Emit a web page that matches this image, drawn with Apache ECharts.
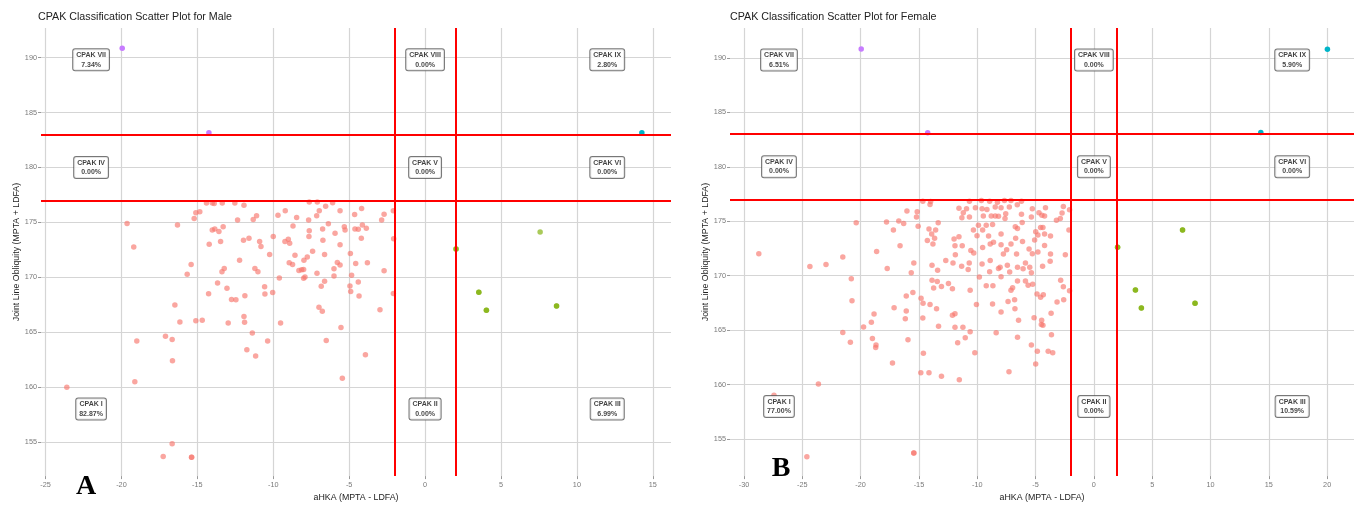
<!DOCTYPE html>
<html><head><meta charset="utf-8">
<script src="https://cdn.jsdelivr.net/npm/echarts@6/dist/echarts.min.js"></script>
<style>html,body{margin:0;padding:0;background:#fff;overflow:hidden}#c{width:1354px;height:507px}</style>
</head><body><div id="c"></div><script>
// ---------------- data ----------------
const titles = ['CPAK Classification Scatter Plot for Male', 'CPAK Classification Scatter Plot for Female'];
const panelLetters = ['A', 'B'];
const xTitle = 'aHKA (MPTA - LDFA)';
const yTitle = 'Joint Line Obliquity (MPTA + LDFA)';
const cutX = [-2, 2];
const cutY = [177, 183];
const regionNames = ['CPAK VII','CPAK VIII','CPAK IX','CPAK IV','CPAK V','CPAK VI','CPAK I','CPAK II','CPAK III'];
const malePct = ['7.34%','0.00%','2.80%','0.00%','0.00%','0.00%','82.87%','0.00%','6.99%'];
const femalePct = ['6.51%','0.00%','5.90%','0.00%','0.00%','0.00%','77.00%','0.00%','10.59%'];
const maleLabelX = [-22, 0, 12];
const femaleLabelX = [-27, 0, 17];
const labelY = [189.8, 180, 158];

const maleI = [
[-19.63,174.91],[-19.19,172.75],[-16.31,174.76],[-15.10,175.87],[-14.84,175.96],[-15.21,175.36],
[-14.40,176.77],[-14.02,176.77],[-13.89,176.71],[-13.36,176.77],[-12.53,176.77],[-11.93,176.56],
[-12.35,175.21],[-11.32,175.27],[-11.10,175.60],[-9.69,175.66],[-9.21,176.05],[-8.46,175.45],[-7.67,175.21],[-7.14,175.60],[-6.97,176.05],[-6.55,176.47],[-6.09,176.80],[-7.63,176.86],[-7.10,176.86],
[-5.60,176.05],[-4.64,175.72],[-4.18,176.26],[-2.70,175.75],[-2.86,175.21],[-2.09,176.05],
[-14.02,174.31],[-13.85,174.40],[-13.58,174.16],[-13.30,174.61],[-14.22,173.02],[-13.47,173.26],
[-11.96,173.38],[-11.60,173.56],[-10.90,173.26],[-10.81,172.81],[-10.00,173.71],
[-9.23,173.26],[-9.01,173.47],[-8.92,173.11],[-8.70,174.67],[-7.63,174.25],[-7.65,173.71],[-6.75,174.40],[-6.37,174.88],[-6.73,173.38],[-5.93,174.01],[-5.32,174.61],[-5.27,174.31],[-4.62,174.40],[-4.40,174.37],[-4.13,174.76],[-3.87,174.46],[-5.60,172.96],[-4.20,173.56],
[-10.24,172.07],[-8.57,172.01],[-7.41,172.37],[-7.76,171.86],[-7.98,171.56],[-6.62,172.07],[-4.92,172.16],[-8.95,171.32],[-8.73,171.17],[-8.31,170.63],[-8.13,170.69],[-8.00,170.72],[-7.91,170.03],[-8.00,169.91],[-7.12,170.36],[-6.00,170.78],[-5.78,171.35],[-5.60,171.11],[-4.84,170.18],[-4.57,171.26],[-3.80,171.32],[-2.70,170.60],[-2.07,173.50],
[-12.22,171.56],[-15.41,171.17],[-15.67,170.27],[-13.38,170.51],[-13.23,170.81],[-11.21,170.81],[-11.01,170.51],
[-9.60,169.94],[-6.62,169.64],[-6.84,169.19],[-6.00,170.12],[-4.95,169.22],[-4.40,169.58],[-4.90,168.71],[-4.35,168.29],[-2.97,167.04],
[-13.67,169.49],[-13.05,169.01],[-14.26,168.50],[-12.75,167.99],[-12.46,167.96],[-11.87,168.32],[-10.57,169.13],[-10.55,168.47],[-10.04,168.62],
[-16.48,167.49],[-16.15,165.93],[-15.10,166.05],[-14.68,166.08],[-12.97,165.84],[-11.93,166.44],[-11.89,165.90],[-9.52,165.84],[-6.99,167.28],[-6.77,166.92],[-5.54,165.42],
[-2.09,168.53],
[-18.99,164.19],[-17.10,164.64],[-16.66,164.34],[-16.64,162.40],[-19.12,160.48],[-11.38,164.94],[-10.37,164.19],[-11.74,163.41],[-11.16,162.84],[-6.51,164.25],[-3.93,162.96],[-5.45,160.81],
[-16.66,154.85],[-17.25,153.68],[-15.38,153.62],[-15.38,153.62],[-23.6,160.0]
];
const maleIII = [[2.04,172.57],[2.04,172.57],[7.58,174.12],[3.54,168.64],[3.54,168.64],[4.04,167.0],[4.04,167.0],[8.66,167.39],[8.66,167.39]];
const maleVII = [[-19.95,190.85],[-14.24,183.17]];
const maleIX = [[14.28,183.17]];

const femaleI = [
[-14.67,176.84],[-14.0,176.81],[-14.05,176.54],[-10.67,176.84],[-9.65,176.9],[-8.94,176.84],[-8.27,176.75],[-7.67,176.9],[-7.11,176.9],[-6.21,176.84],[-6.57,176.51],
[-16.03,175.93],[-15.15,175.87],[-11.57,176.2],[-10.92,176.14],[-10.16,176.23],[-9.59,176.14],[-9.17,176.08],[-8.46,176.3],[-7.96,176.23],[-7.25,176.3],[-5.28,176.14],[-4.15,176.23],[-2.62,176.36],[-2.09,176.05],
[-16.73,175.03],[-15.21,175.39],[-11.2,175.78],[-11.32,175.33],[-10.67,175.39],[-9.48,175.48],[-8.8,175.48],[-8.46,175.48],[-8.18,175.45],[-7.56,175.69],[-7.62,175.24],[-6.21,175.63],[-5.36,175.39],[-4.71,175.78],[-4.46,175.54],[-4.23,175.48],[-3.21,175.09],[-2.73,175.75],[-2.88,175.24],
[-20.38,174.85],[-17.78,174.94],[-16.31,174.79],[-15.07,174.55],[-13.35,174.85],[-9.9,174.64],[-9.23,174.64],[-8.69,174.7],[-6.74,174.49],[-6.15,174.88],[-4.57,174.43],[-4.37,174.43],
[-17.19,174.19],[-14.14,174.28],[-13.57,174.19],[-13.91,173.83],[-13.66,173.43],[-14.28,173.22],[-13.8,172.92],[-11.99,173.37],[-11.57,173.58],[-10.33,174.19],[-10.02,173.67],[-9.54,174.19],[-9.03,173.64],[-8.61,173.07],[-7.96,173.83],[-7.11,172.92],[-6.71,173.43],[-6.55,174.34],[-6.12,173.13],[-4.99,174.04],[-5.08,173.28],[-4.8,173.73],[-4.23,173.83],[-3.72,173.64],[-2.14,174.19],
[-16.62,172.74],[-18.63,172.23],[-11.91,172.74],[-11.88,171.93],[-11.29,172.74],[-10.55,172.32],[-10.3,172.08],[-9.54,172.59],[-8.89,172.92],[-7.96,172.83],[-7.48,172.38],[-7.76,171.99],[-6.63,171.99],[-5.56,172.44],[-5.28,172.02],[-4.8,172.17],[-4.23,172.77],[-3.72,171.99],[-2.45,171.93],
[-28.73,172.02],[-24.35,170.84],[-22.97,171.02],[-21.53,171.72],[-17.72,170.66],[-15.44,171.17],[-15.66,170.27],[-13.88,170.96],[-13.4,170.51],[-12.7,171.39],[-12.08,171.17],[-11.34,170.87],[-10.78,170.57],[-10.69,171.17],[-9.59,171.08],[-8.94,170.36],[-8.89,171.39],[-8.18,170.66],[-8.04,170.78],[-7.42,170.96],[-7.22,170.33],[-6.55,170.78],[-6.07,170.63],[-5.87,171.17],[-5.5,170.78],[-5.36,170.27],[-4.4,170.87],[-3.75,171.33],
[-20.8,169.73],[-13.88,169.58],[-13.43,169.46],[-13.74,168.86],[-13.07,169.01],[-12.47,169.28],[-12.13,168.8],[-10.61,168.67],[-9.82,169.88],[-9.23,169.07],[-8.66,169.07],[-7.96,169.91],[-7.11,168.67],[-6.97,168.89],[-6.55,169.52],[-5.87,169.52],[-5.64,169.13],[-5.25,169.22],[-4.88,168.31],[-4.34,168.25],[-2.85,169.58],[-2.62,168.98],[-2.09,168.61],
[-20.74,167.71],[-16.09,168.13],[-15.52,168.46],[-17.13,167.05],[-16.09,166.75],[-14.82,167.92],[-14.65,167.47],[-14.05,167.35],[-13.49,166.96],[-12.13,166.36],[-11.91,166.51],[-10.07,167.35],[-8.69,167.41],[-7.96,166.66],[-7.36,167.62],[-6.8,167.8],[-6.77,166.96],[-4.57,168.01],[-3.67,166.54],[-3.16,167.59],[-2.59,167.8],
[-18.85,166.48],[-16.17,166.05],[-14.67,166.11],[-19.08,165.72],[-19.75,165.3],[-13.32,165.36],[-11.91,165.27],[-11.23,165.27],[-6.46,165.9],[-5.13,166.14],[-4.48,165.9],[-4.51,165.51],[-4.37,165.45],
[-21.53,164.79],[-20.88,163.88],[-18.99,164.24],[-18.68,163.64],[-18.71,163.4],[-15.94,164.12],[-10.61,164.85],[-11.03,164.31],[-11.68,163.85],[-10.21,162.92],[-14.62,162.89],[-17.27,161.98],[-14.84,161.1],[-14.14,161.1],[-13.07,160.77],[-11.54,160.44],[-8.38,164.76],[-6.55,164.34],[-5.36,163.64],[-4.85,163.07],[-3.92,163.07],[-3.53,162.92],[-3.64,164.58],[-4.99,161.89],[-7.28,161.19],
[-23.62,160.05],[-27.43,159.02],[-24.61,153.37],[-15.44,153.73],[-15.44,153.73]
];
const femaleIII = [[2.03,172.6],[2.03,172.6],[7.6,174.2],[7.6,174.2],[3.56,168.69],[3.56,168.69],[4.07,167.04],[4.07,167.04],[8.67,167.46],[8.67,167.46]];
const femaleVII = [[-19.95,190.81],[-14.25,183.13]];
const femaleIX = [[20.02,190.8],[14.31,183.14]];

// ---------------- chart ----------------
const FONT = '"Liberation Sans", Arial, sans-serif';
const panels = [
  {grid:{left:41, top:28, width:630, height:455}, x:[-25.3,16.2,8], y:[151.9,192.7,8],
   I:maleI, III:maleIII, VII:maleVII, IX:maleIX, pct:malePct, lx:maleLabelX},
  {grid:{left:730, top:28, width:632, height:455}, x:[-31.2,22.3,10], y:[151.6,192.74,8],
   I:femaleI, III:femaleIII, VII:femaleVII, IX:femaleIX, pct:femalePct, lx:femaleLabelX}
];
const mult5 = v => Math.abs(v/5 - Math.round(v/5)) < 1e-6 ? String(Math.round(v)) : '';
function axisCommon(min, max, split, gi, isY){
  return {
    type:'value', gridIndex:gi, min:min, max:max, splitNumber:split,
    position: isY ? 'left' : 'bottom',
    axisLine:{show:false, onZero:false},
    axisTick:{show:true, length:3, lineStyle:{color:'#9a9a9a', width:1}},
    axisLabel:{show:true, fontSize:7.3, color:'#7a7a7a', fontFamily:FONT, margin: isY?4:5,
      formatter: mult5, showMinLabel:false, showMaxLabel:false},
    splitLine:{show:true, showMinLine:false, showMaxLine:false, lineStyle:{color:'#d5d5d5', width:1.2}},
    name: isY ? yTitle : xTitle, nameLocation:'middle', nameGap: isY ? 20 : 15,
    nameRotate: isY ? 90 : 0,
    nameTextStyle:{fontSize:8.8, color:'#222', fontFamily:FONT}
  };
}
const series = [];
panels.forEach((p, gi) => {
  const groups = [
    {d:p.I, c:'#F8766D', o:0.65},
    {d:p.III, c:'#7CAE00', o:0.65},
    {d:p.IX, c:'#00B4C8', o:1},
    {d:p.VII, c:'#C77CFF', o:1}
  ];
  groups.forEach(g => series.push({
    type:'scatter', xAxisIndex:gi, yAxisIndex:gi, data:g.d, symbolSize:5.5, silent:true,
    itemStyle:{color:g.c, opacity:g.o}, z:2
  }));
  series.push({
    type:'scatter', xAxisIndex:gi, yAxisIndex:gi, data:[], silent:true,
    markLine:{silent:true, symbol:['none','none'], label:{show:false}, z:5,
      lineStyle:{color:'#ff0000', width:2, type:'solid', opacity:1},
      data: cutX.map(v=>({xAxis:v})).concat(cutY.map(v=>({yAxis:v})))}
  });
  series.push({
    type:'scatter', xAxisIndex:gi, yAxisIndex:gi, z:10, symbolSize:1, silent:true,
    itemStyle:{color:'rgba(0,0,0,0)'},
    data: regionNames.map((n,i)=>({name:n, value:[p.lx[i%3], labelY[Math.floor(i/3)]]})),
    label:{show:true, position:'inside', fontFamily:FONT,
      formatter: q => q.name + '\n' + p.pct[q.dataIndex],
      fontSize:7, fontWeight:'bold', color:'#111', lineHeight:9.5, align:'center',
      backgroundColor:'#fff', borderColor:'#555', borderWidth:1, borderRadius:2, padding:[1,3,1,3]}
  });
});

const chart = echarts.init(document.getElementById('c'), null, {renderer:'canvas'});
chart.setOption({
  animation:false,
  backgroundColor:'#fff',
  title: titles.map((t,i)=>({text:t, left: i===0?38:730, top:12, padding:0,
    textStyle:{fontSize:10.7, fontWeight:'normal', color:'#222', fontFamily:FONT}})),
  grid: panels.map(p=>p.grid),
  xAxis: panels.map((p,gi)=>axisCommon(p.x[0], p.x[1], p.x[2], gi, false)),
  yAxis: panels.map((p,gi)=>axisCommon(p.y[0], p.y[1], p.y[2], gi, true)),
  series: series,
  graphic: [
    {type:'text', x:86, y:487, z:100, style:{text:panelLetters[0], font:'bold 28px "Liberation Serif", "Times New Roman", serif', fill:'#000', textAlign:'center', textVerticalAlign:'middle'}},
    {type:'text', x:781, y:469, z:100, style:{text:panelLetters[1], font:'bold 28px "Liberation Serif", "Times New Roman", serif', fill:'#000', textAlign:'center', textVerticalAlign:'middle'}}
  ]
});
</script></body></html>
